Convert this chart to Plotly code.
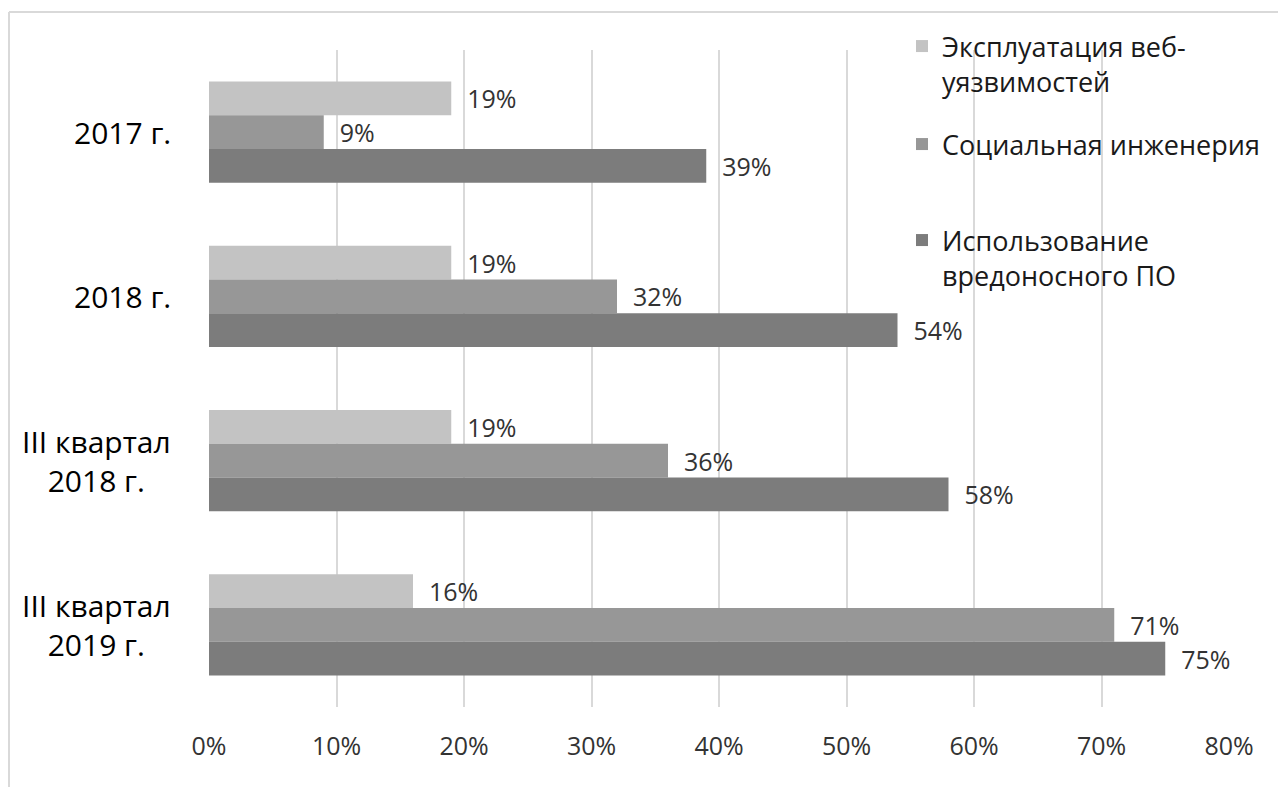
import plotly.graph_objects as go

categories = ["2017 г.", "2018 г.", "III квартал<br>2018 г.", "III квартал<br>2019 г."]
series_names = ["Эксплуатация веб-<br>уязвимостей", "Социальная инженерия", "Использование<br>вредоносного ПО"]
web_exploit = [0.19, 0.19, 0.19, 0.16]
social_eng = [0.09, 0.32, 0.36, 0.71]
malware = [0.39, 0.54, 0.58, 0.75]
colors = ["#c3c3c3", "#979797", "#7c7c7c"]
x_ticks = [0, 0.1, 0.2, 0.3, 0.4, 0.5, 0.6, 0.7, 0.8]

W, H = 1278, 787
L, R, T, B = 209, 49, 50, 80
PW, PH = W - L - R, H - T - B


def px_x(px):
    return (px - L) / PW


def px_y(py):
    return (H - B - py) / PH


FONT = "Open Sans"
fig = go.Figure()
legends = ["legend", "legend2", "legend3"]
for name, vals, col, lg in zip(series_names, [web_exploit, social_eng, malware], colors, legends):
    fig.add_trace(go.Bar(
        y=categories, x=vals, name=name, orientation="h",
        marker=dict(color=col, line=dict(width=0)),
        text=vals, texttemplate="\u00a0\u00a0%{x:.0%}", textposition="outside",
        textfont=dict(family=FONT, size=25, color="#333333"),
        cliponaxis=False, constraintext="none", legend=lg,
    ))

legend_tops = [22, 120, 216]
common_leg = dict(xanchor="left", yanchor="top", bgcolor="rgba(0,0,0,0)",
                  font=dict(family=FONT, size=27, color="#1a1a1a"), valign="top",
                  itemwidth=30, traceorder="normal")
fig.update_layout(**{lg: dict(x=px_x(902), y=px_y(t), **common_leg) for lg, t in zip(legends, legend_tops)})

fig.update_layout(
    width=W, height=H,
    margin=dict(l=L, r=R, t=T, b=B, pad=0),
    paper_bgcolor="white", plot_bgcolor="white",
    barmode="group", bargap=0.384, bargroupgap=0,
    showlegend=True,
    xaxis=dict(range=[0, 0.8], tickvals=x_ticks, tickformat=".0%",
               showgrid=True, gridcolor="#d9d9d9", gridwidth=2,
               zeroline=False, showline=False, ticks="",
               ticklabelstandoff=22,
               tickfont=dict(family=FONT, size=25, color="#333333"), fixedrange=True),
    yaxis=dict(autorange="reversed", showticklabels=False, showgrid=False,
               zeroline=False, showline=False, ticks=""),
)

for cat in categories:
    fig.add_annotation(x=px_x(173), xref="paper", y=cat, yref="y", text=cat,
                       showarrow=False, xanchor="right", align="center",
                       font=dict(family=FONT, size=30, color="#000000"))

# chart border (top and left edges visible)
fig.add_shape(type="line", xref="paper", yref="paper", x0=px_x(9), x1=px_x(1290),
              y0=px_y(12), y1=px_y(12), line=dict(color="#d9d9d9", width=2))
fig.add_shape(type="line", xref="paper", yref="paper", x0=px_x(9), x1=px_x(9),
              y0=px_y(12), y1=px_y(800), line=dict(color="#d9d9d9", width=2))

fig.write_html("out.html")
